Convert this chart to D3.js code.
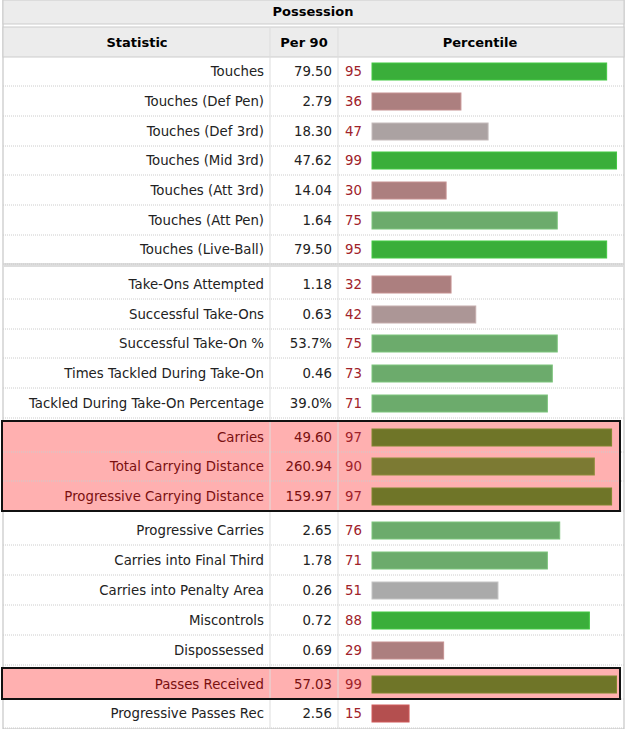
<!DOCTYPE html>
<html>
<head>
<meta charset="utf-8">
<style>body{margin:0;background:#fff}text{font-family:"DejaVu Sans",sans-serif}</style>
</head>
<body>
<script src="https://cdnjs.cloudflare.com/ajax/libs/d3/7.8.5/d3.min.js"></script>
<script>
var stats = ["Touches","Touches (Def Pen)","Touches (Def 3rd)","Touches (Mid 3rd)","Touches (Att 3rd)","Touches (Att Pen)","Touches (Live-Ball)",
  "Take-Ons Attempted","Successful Take-Ons","Successful Take-On %","Times Tackled During Take-On","Tackled During Take-On Percentage",
  "Carries","Total Carrying Distance","Progressive Carrying Distance","Progressive Carries","Carries into Final Third","Carries into Penalty Area",
  "Miscontrols","Dispossessed","Passes Received","Progressive Passes Rec"];
var per90 = ["79.50","2.79","18.30","47.62","14.04","1.64","79.50","1.18","0.63","53.7%","0.46","39.0%",
  "49.60","260.94","159.97","2.65","1.78","0.26","0.72","0.69","57.03","2.56"];
var pct = [95,36,47,99,30,75,95,32,42,75,73,71,97,90,97,76,71,51,88,29,99,15];
var highlighted = [12,13,14,20];
var rowY = [71,101,131,160,190,220,249,284,314,343,373,403,437,466,496,530,560,590,620,650,684,713];

var W = 625, H = 729;
var svg = d3.select('body').append('svg').attr('width',W).attr('height',H);

var x = d3.scaleLinear().domain([0,100]).range([372,619]);

function barColor(p,i){
  if(highlighted.indexOf(i)>=0) return p>=95 ? '#6f7528' : '#7c7a33';
  if(p>=80) return '#3aae3a';
  if(p>=60) return '#6cab6c';
  if(p>=50) return '#aaaaaa';
  if(p>=45) return '#aba2a2';
  if(p>=40) return '#ac9696';
  if(p>=20) return '#ac7f7f';
  return '#b44f4f';
}

// outer frame
svg.append('rect').attr('x',3).attr('y',0).attr('width',W-4).attr('height',H).attr('fill','#fff').attr('stroke','#bbb');
// title
svg.append('rect').attr('x',3).attr('y',0).attr('width',W-4).attr('height',24).attr('fill','#ececec').attr('stroke','#ccc');
svg.append('text').attr('x',313).attr('y',16).attr('text-anchor','middle').attr('font-weight','bold').attr('font-size',13).text('Possession');
svg.append('rect').attr('x',3).attr('y',27).attr('width',W-4).attr('height',30).attr('fill','#ececec').attr('stroke','#ccc');
[['Statistic',137],['Per 90',304],['Percentile',480]].forEach(function(h){
  svg.append('text').attr('x',h[1]).attr('y',47).attr('text-anchor','middle').attr('font-weight','bold').attr('font-size',13).text(h[0]);
});

// highlight boxes
[[12,14],[20,20]].forEach(function(r){
  var y0 = rowY[r[0]]-16, y1 = rowY[r[1]]+15;
  svg.append('rect').attr('x',2).attr('y',y0).attr('width',W-7).attr('height',y1-y0).attr('fill','#ffb0b0');
});

// separator between groups
svg.append('rect').attr('x',3).attr('y',263).attr('width',W-4).attr('height',4).attr('fill','#ddd');

// row dotted lines
svg.selectAll('line.row').data(rowY).enter().append('line')
  .attr('x1',3).attr('x2',W).attr('y1',function(d){return d+15}).attr('y2',function(d){return d+15})
  .attr('stroke','#ccc').attr('stroke-dasharray','1,1');

// column lines
[270,338].forEach(function(cx){
  svg.append('line').attr('x1',cx).attr('x2',cx).attr('y1',27).attr('y2',H).attr('stroke','#ddd');
});

var rows = svg.selectAll('g.r').data(stats).enter().append('g')
  .attr('transform',function(d,i){return 'translate(0,'+rowY[i]+')'});

rows.append('text').attr('x',264).attr('dy','0.35em').attr('text-anchor','end').attr('font-size',13.3)
  .attr('fill',function(d,i){return highlighted.indexOf(i)>=0 ? '#7a1010':'#222'}).text(function(d){return d});
rows.append('text').attr('x',332).attr('dy','0.35em').attr('text-anchor','end').attr('font-size',13.3)
  .attr('fill',function(d,i){return highlighted.indexOf(i)>=0 ? '#7a1010':'#222'}).text(function(d,i){return per90[i]});
rows.append('text').attr('x',345).attr('dy','0.35em').attr('font-size',13.3).attr('fill','#a0222a').text(function(d,i){return pct[i]});
rows.append('rect').attr('x',x(0)).attr('y',-8).attr('height',17)
  .attr('width',function(d,i){return x(pct[i])-x(0)})
  .attr('fill',function(d,i){return barColor(pct[i],i)})
  .attr('stroke',function(d,i){return d3.color(barColor(pct[i],i)).brighter(0.4)});

[[12,14],[20,20]].forEach(function(r){
  var y0 = rowY[r[0]]-16, y1 = rowY[r[1]]+15;
  svg.append('rect').attr('x',2).attr('y',y0).attr('width',W-7).attr('height',y1-y0).attr('fill','none').attr('stroke','#111').attr('stroke-width',2);
});
</script>
</body>
</html>
